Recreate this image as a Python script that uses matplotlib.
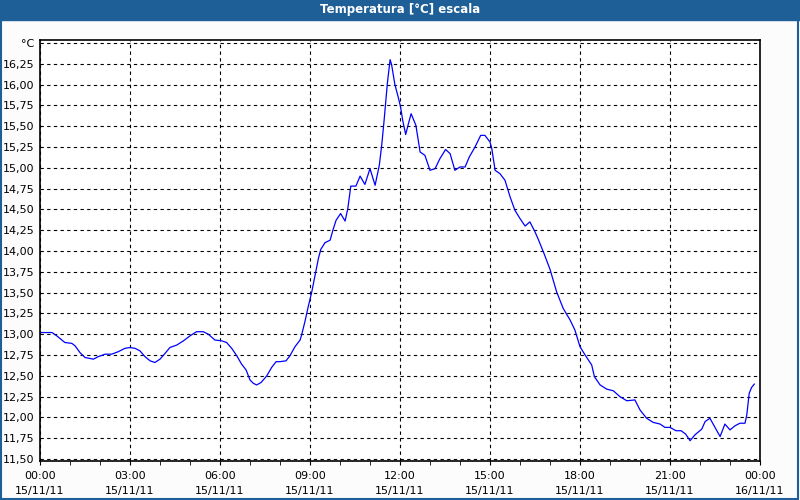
import matplotlib
matplotlib.use('Agg')
import matplotlib.pyplot as plt
from matplotlib.patches import Rectangle

# hours since 15/11/11 00:00 and temperature readings
hours = [0.0, 0.4, 0.56, 0.83, 1.06, 1.17, 1.33, 1.5, 1.78, 1.94, 2.17, 2.39, 2.61, 2.83,
         3.0, 3.17, 3.33, 3.5, 3.67, 3.83, 4.0, 4.17, 4.33, 4.56, 4.78, 5.0, 5.22, 5.44,
         5.61, 5.83, 6.06, 6.22, 6.39, 6.56, 6.72, 6.87, 7.0, 7.11, 7.22, 7.37, 7.56, 7.72,
         7.87, 8.0, 8.2, 8.33, 8.5, 8.67, 8.72, 8.83, 8.94, 9.06, 9.17, 9.28, 9.36, 9.5,
         9.67, 9.78, 9.87, 10.02, 10.17, 10.26, 10.36, 10.53, 10.67, 10.83, 11.0, 11.17,
         11.31, 11.39, 11.47, 11.58, 11.67, 11.72, 11.83, 11.94, 12.02, 12.09, 12.19, 12.28,
         12.37, 12.53, 12.67, 12.83, 13.0, 13.17, 13.33, 13.52, 13.67, 13.83, 14.0, 14.17,
         14.31, 14.5, 14.69, 14.83, 15.0, 15.06, 15.17, 15.33, 15.5, 15.67, 15.83, 16.0,
         16.17, 16.33, 16.5, 16.61, 16.8, 17.0, 17.22, 17.44, 17.67, 17.83, 18.0, 18.17,
         18.39, 18.48, 18.67, 18.89, 19.11, 19.33, 19.56, 19.83, 20.0, 20.22, 20.44, 20.67,
         20.83, 21.0, 21.2, 21.37, 21.52, 21.67, 21.83, 22.06, 22.17, 22.33, 22.5, 22.67,
         22.83, 23.0, 23.17, 23.33, 23.5, 23.56, 23.64, 23.72, 23.81]
temps = [13.02, 13.02, 12.98, 12.90, 12.89, 12.86, 12.78, 12.72, 12.70, 12.73, 12.76, 12.76,
         12.79, 12.83, 12.84, 12.83, 12.80, 12.73, 12.68, 12.66, 12.70, 12.77, 12.84, 12.87,
         12.92, 12.98, 13.03, 13.03, 13.00, 12.93, 12.92, 12.90, 12.83, 12.74, 12.64, 12.57,
         12.45, 12.41, 12.39, 12.42, 12.50, 12.60, 12.67, 12.67, 12.68, 12.74, 12.85, 12.93,
         12.99, 13.15, 13.33, 13.51, 13.71, 13.91, 14.02, 14.10, 14.13, 14.27, 14.37, 14.45,
         14.36, 14.51, 14.78, 14.78, 14.90, 14.80, 14.99, 14.79, 15.03, 15.27, 15.57, 16.02,
         16.30, 16.24, 16.00, 15.85, 15.73, 15.57, 15.40, 15.53, 15.65, 15.51, 15.19, 15.15,
         14.97, 14.99, 15.11, 15.22, 15.17, 14.97, 15.01, 15.01, 15.13, 15.25, 15.39, 15.39,
         15.31, 15.23, 14.97, 14.93, 14.85, 14.65, 14.49, 14.39, 14.30, 14.35, 14.23, 14.14,
         13.97, 13.78, 13.51, 13.31, 13.17, 13.05, 12.85, 12.75, 12.63, 12.49, 12.39, 12.34,
         12.32, 12.25, 12.20, 12.21, 12.09, 11.99, 11.94, 11.92, 11.88, 11.88, 11.84, 11.84,
         11.80, 11.72, 11.79, 11.86, 11.95, 11.99, 11.88, 11.77, 11.92, 11.85, 11.90, 11.93,
         11.93, 12.03, 12.29, 12.36, 12.40]

y_ticks = [11.50 + 0.25 * i for i in range(21)]
y_labels = [('%.2f' % v).replace('.', ',') for v in y_ticks[:-1]] + ['°C']
x_ticks = [0, 3, 6, 9, 12, 15, 18, 21, 24]
x_labels = ['00:00\n15/11/11', '03:00\n15/11/11', '06:00\n15/11/11', '09:00\n15/11/11',
            '12:00\n15/11/11', '15:00\n15/11/11', '18:00\n15/11/11', '21:00\n15/11/11',
            '00:00\n16/11/11']

bar_col = '#1d5f96'

fig = plt.figure(figsize=(8, 5), dpi=100, facecolor='#fcfcfc')
ax = fig.add_axes([0.05, 0.078, 0.90, 0.842])
ax.set_facecolor('white')

ax.plot(hours, temps, color='#0000ff', lw=0.9)

ax.set_xlim(0, 24)
ax.set_ylim(11.476, 16.536)
ax.set_yticks(y_ticks)
ax.set_yticklabels(y_labels)
ax.set_xticks(x_ticks)
ax.set_xticklabels(x_labels, linespacing=1.6)
ax.set_xticks(range(25), minor=True)
ax.tick_params(axis='y', length=0, pad=4, labelsize=8)
ax.tick_params(axis='x', which='both', length=3, direction='out', pad=4, labelsize=8)
ax.grid(True, color='black', lw=0.8, ls=(0, (3, 3)))
for s in ax.spines.values():
    s.set_linewidth(1.2)

# title bar and window border
fig.patches.append(Rectangle((0, 0.96), 1, 0.04, transform=fig.transFigure,
                             color=bar_col, zorder=0))
fig.patches.append(Rectangle((0.001, 0.002), 0.997, 0.996, transform=fig.transFigure,
                             fill=False, edgecolor=bar_col, lw=1.5))
fig.text(0.5, 0.98, 'Temperatura [°C] escala', color='white', fontsize=8.5,
         fontweight='bold', ha='center', va='center')

fig.savefig('out.png', dpi=100, facecolor=fig.get_facecolor())
